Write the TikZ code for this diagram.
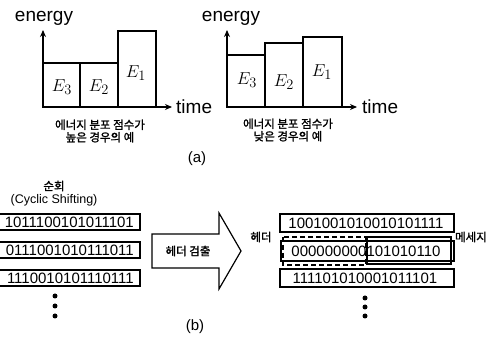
\documentclass[tikz,border=0pt]{standalone}
\usepackage{fontspec}
\setmainfont{Liberation Sans}
\newfontfamily\kr[AutoFakeBold=1.5]{Noto Sans CJK KR}
\usetikzlibrary{arrows.meta}
\tikzset{
  axisline/.style={line width=1.8pt,-{Stealth[length=7pt,width=6pt]}},
  barrect/.style={draw,line width=1.3pt},
  lbl/.style={inner sep=0pt,font=\fontsize{19}{22}\selectfont},
  elbl/.style={inner sep=0pt,font=\fontsize{19}{21}\selectfont},
  krtxt/.style={inner sep=0pt,align=center,font=\kr\bfseries\fontsize{11.5}{12.5}\selectfont},
  captxt/.style={inner sep=0pt,font=\fontsize{15}{17}\selectfont},
  bits/.style={inner sep=0pt,font=\fontsize{15}{16}\selectfont},
  rowbox/.style={draw,line width=1.1pt},
  dotb/.style={fill,circle,inner sep=0pt,minimum size=5pt}
}
\begin{document}
\begin{tikzpicture}[x=1pt,y=-1pt]
\useasboundingbox (0,0) rectangle (496,339);
% ---------- (a) left chart ----------
\coordinate (lo) at (43,107);
\coordinate (ly) at (43,30);
\coordinate (lx) at (172,107);
\draw[barrect] (43,63) rectangle (80,107);
\draw[barrect] (80,63) rectangle (118,107);
\draw[barrect] (118,31) rectangle (156,107);
\draw[axisline] (lo) -- (ly);
\draw[axisline] (lo) -- (lx);
\node[lbl] (len) at (44,18) {energy};
\node[lbl,anchor=west] (ltime) at (176,107) {time};
\node[elbl] (le3) at (62,87) {$E_3$};
\node[elbl] (le2) at (99,87) {$E_2$};
\node[elbl] (le1) at (136,73) {$E_1$};
\node[krtxt] (lkr) at (100,131) {에너지 분포 점수가\\높은 경우의 예};
% ---------- (a) right chart ----------
\coordinate (ro) at (227,107);
\coordinate (ry) at (227,30);
\coordinate (rx) at (357,107);
\draw[barrect] (227,55) rectangle (265,107);
\draw[barrect] (265,43) rectangle (303,107);
\draw[barrect] (303,37) rectangle (342,107);
\draw[axisline] (ro) -- (ry);
\draw[axisline] (ro) -- (rx);
\node[lbl] (ren) at (231,18) {energy};
\node[lbl,anchor=west] (rtime) at (362,107) {time};
\node[elbl] (re3) at (247,80) {$E_3$};
\node[elbl] (re2) at (284,82) {$E_2$};
\node[elbl] (re1) at (322,72) {$E_1$};
\node[krtxt] (rkr) at (288,130) {에너지 분포 점수가\\낮은 경우의 예};
\node[captxt] (capa) at (197,159) {(a)};
% ---------- (b) left ----------
\node[krtxt] (shift) at (54,186) {순회};
\node[inner sep=0pt,font=\fontsize{12.5}{14}\selectfont] (cyc) at (54,200) {(Cyclic Shifting)};
\draw[rowbox] (-10,214) rectangle (140,230);
\draw[rowbox] (-10,242) rectangle (140,258);
\draw[rowbox] (-10,270) rectangle (140,286);
\node[bits,anchor=east] (lr1) at (134,222) {1011100101011101};
\node[bits,anchor=east] (lr2) at (134,250) {0111001010111011};
\node[bits,anchor=east] (lr3) at (134,278) {1110010101110111};
\node[dotb] (ld1) at (55,296) {};
\node[dotb] (ld2) at (55,306) {};
\node[dotb] (ld3) at (55,316) {};
% ---------- big arrow ----------
\draw[line width=1.2pt,line join=miter] (152,234) -- (219,234) -- (219,213) -- (241,251)
  -- (219,289) -- (219,268) -- (152,268) -- cycle;
\node[krtxt] (det) at (188,251) {헤더 검출};
% ---------- (b) right ----------
\draw[rowbox] (280,214) rectangle (454,232);
\draw[rowbox] (281,241) rectangle (454,261);
\draw[rowbox] (280,269) rectangle (454,287);
\draw[line width=1.5pt,dash pattern=on 5pt off 3pt] (283,237) rectangle (366,265);
\draw[line width=1.5pt] (367,237) rectangle (451,264);
\node[bits] (rr1) at (366,223) {1001001010010101111};
\node[bits] (rr2) at (366,251) {000000000101010110};
\node[bits] (rr3) at (365,278) {111101010001011101};
\node[krtxt] (hd) at (261,237) {헤더};
\node[krtxt] (msg) at (471,237) {메세지};
\node[dotb] (rd1) at (365,298) {};
\node[dotb] (rd2) at (365,307) {};
\node[dotb] (rd3) at (365,316) {};
\node[captxt] (capb) at (195,327) {(b)};
\end{tikzpicture}
\end{document}
